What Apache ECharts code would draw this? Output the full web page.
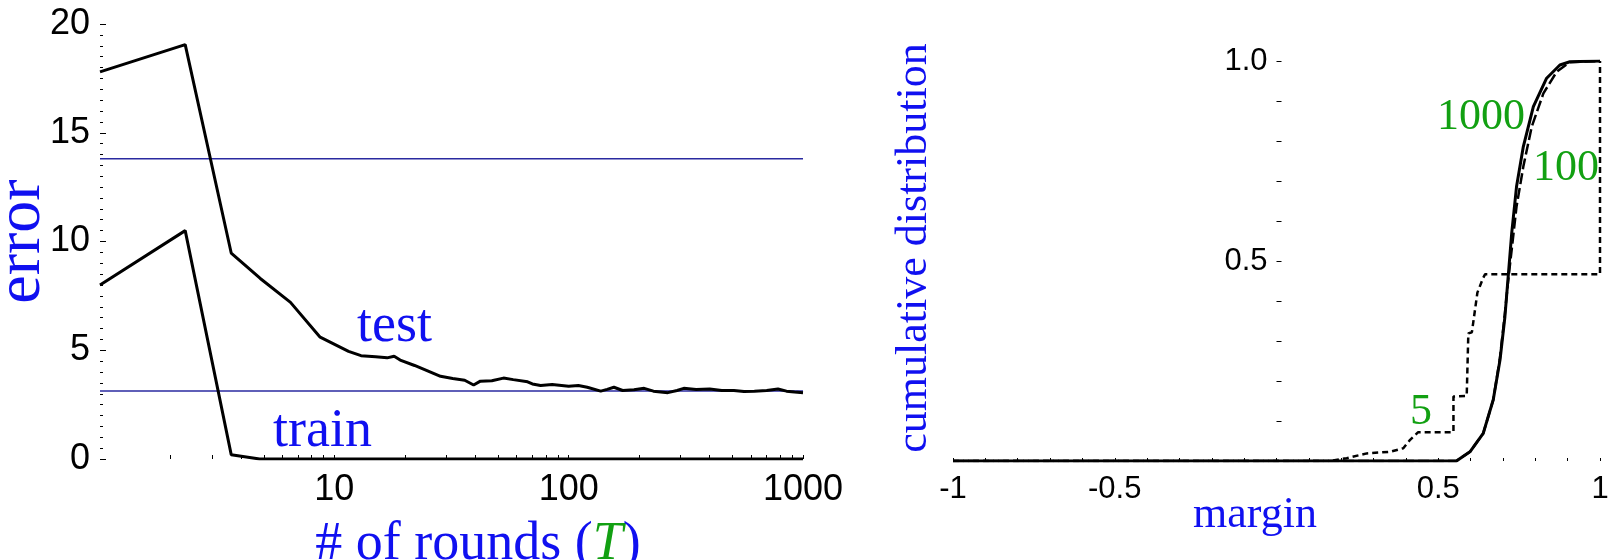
<!DOCTYPE html>
<html>
<head>
<meta charset="utf-8">
<script src="https://cdn.jsdelivr.net/npm/echarts@6/dist/echarts.min.js"></script>
<style>
  html, body { margin: 0; padding: 0; background: #fff; }
  #main { width: 1608px; height: 560px; }
</style>
</head>
<body>
<div id="main"></div>
<script>
// left panel: error vs. number of rounds (log x)
var testErr = [
  [1, 17.8], [2.31, 19.05], [3.63, 9.47], [4.83, 8.3], [6.5, 7.2], [8.7, 5.6],
  [11.5, 4.95], [13, 4.75], [15, 4.7], [16.8, 4.65], [18, 4.72], [19.1, 4.55],
  [22, 4.3], [25, 4.05], [28.4, 3.8], [32, 3.7], [36, 3.62], [39.3, 3.4],
  [42, 3.58], [47, 3.6], [52.7, 3.72], [58, 3.65], [66.8, 3.55], [70, 3.45],
  [75.9, 3.38], [85, 3.42], [100, 3.35], [110, 3.38], [120, 3.3], [137, 3.12],
  [146, 3.2], [156, 3.3], [170, 3.15], [190, 3.18], [210, 3.25], [230, 3.12],
  [265, 3.05], [290, 3.15], [310, 3.25], [350, 3.2], [400, 3.22], [450, 3.15],
  [507, 3.15], [560, 3.1], [620, 3.12], [700, 3.15], [782, 3.22], [850, 3.12],
  [920, 3.08], [1000, 3.05]
];
var trainErr = [[1, 8.0], [2.31, 10.5], [3.63, 0.2], [4.8, 0], [1000, 0]];
var refHigh = [[1, 13.8], [1000, 13.8]];
var refLow = [[1, 3.13], [1000, 3.13]];
var roundTicks = [2, 3, 4, 5, 6, 7, 8, 9, 10, 20, 30, 40, 50, 60, 70, 80, 90, 100,
  200, 300, 400, 500, 600, 700, 800, 900, 1000];

// right panel: cumulative margin distributions
var cdf1000 = [
  [-1, 0], [0.556, 0], [0.598, 0.023], [0.639, 0.069], [0.67, 0.153], [0.691, 0.253],
  [0.706, 0.36], [0.717, 0.469], [0.727, 0.569], [0.742, 0.686], [0.763, 0.786],
  [0.794, 0.886], [0.835, 0.957], [0.876, 0.99], [0.907, 0.998], [1, 1]
];
var cdf100 = [
  [-1, 0], [0.556, 0], [0.598, 0.023], [0.639, 0.069], [0.67, 0.153], [0.69, 0.253],
  [0.705, 0.36], [0.716, 0.45], [0.727, 0.528], [0.742, 0.636], [0.763, 0.736],
  [0.789, 0.836], [0.825, 0.919], [0.866, 0.973], [0.907, 0.997], [1, 1]
];
var cdf5 = [
  [-1, 0], [0.165, 0], [0.217, 0.007], [0.279, 0.019], [0.351, 0.023], [0.392, 0.032],
  [0.413, 0.053], [0.438, 0.072], [0.547, 0.072], [0.547, 0.161], [0.588, 0.163],
  [0.593, 0.319], [0.604, 0.322], [0.621, 0.421], [0.639, 0.458], [0.645, 0.467],
  [1, 0.467], [1, 1]
];

var BLUE = '#1010f0';
var GREEN = '#12a012';
var SERIF = '"Liberation Serif", "DejaVu Serif", serif';
var SANS = '"Liberation Sans", Arial, sans-serif';

var chart = echarts.init(document.getElementById('main'));
var option = {
  animation: false,
  backgroundColor: '#fff',
  grid: [
    { left: 100, right: 805, top: 24, bottom: 101, outerBoundsMode: 'none', containLabel: false },
    { left: 953, right: 8, top: 61, bottom: 99, outerBoundsMode: 'none', containLabel: false }
  ],
  xAxis: [
    {
      gridIndex: 0, type: 'log', min: 1, max: 1000, logBase: 10,
      name: '# of rounds ({g|T})', nameLocation: 'middle', nameGap: 59, nameMoveOverlap: false,
      nameTextStyle: {
        color: BLUE, fontFamily: SERIF, fontSize: 54, padding: [0, 0, 0, 53],
        rich: { g: { color: GREEN, fontStyle: 'italic', fontFamily: SERIF, fontSize: 54 } }
      },
      axisLine: { show: false, onZero: false },
      splitLine: { show: false },
      axisTick: { show: true, inside: true, length: 4, customValues: roundTicks, lineStyle: { color: '#000', width: 1 } },
      axisLabel: {
        margin: 13, color: '#000', fontFamily: SANS, fontSize: 36,
        formatter: function (v) { return v === 1 ? '' : String(v); }
      }
    },
    {
      gridIndex: 1, type: 'value', min: -1, max: 1, interval: 0.5,
      name: 'margin', nameLocation: 'middle', nameGap: 32, nameMoveOverlap: false,
      nameTextStyle: { color: BLUE, fontFamily: SERIF, fontSize: 44, padding: [0, 43, 0, 0] },
      axisLine: { show: false, onZero: false },
      splitLine: { show: false },
      axisTick: { show: true, inside: true, length: 3, lineStyle: { color: '#000', width: 1 } },
      minorTick: { show: true, splitNumber: 5, length: 3, lineStyle: { color: '#000', width: 1 } },
      axisLabel: {
        margin: 13, color: '#000', fontFamily: SANS, fontSize: 31,
        formatter: function (v) { return v === 0 ? '' : String(v); }
      }
    }
  ],
  yAxis: [
    {
      gridIndex: 0, type: 'value', min: 0, max: 20, interval: 5,
      name: 'error', nameLocation: 'middle', nameGap: 46, nameMoveOverlap: false,
      nameTextStyle: { color: BLUE, fontFamily: SERIF, fontSize: 64 },
      axisLine: { show: false, onZero: false },
      splitLine: { show: false },
      axisTick: { show: true, inside: true, length: 6, lineStyle: { color: '#000', width: 1 } },
      minorTick: { show: true, splitNumber: 10, length: 3, lineStyle: { color: '#000', width: 1 } },
      axisLabel: { margin: 10, color: '#000', fontFamily: SANS, fontSize: 36 }
    },
    {
      // the axis stands at margin 0, in the middle of the grid
      gridIndex: 1, type: 'value', min: 0, max: 1, interval: 0.5, offset: -323.5,
      name: 'cumulative distribution', nameLocation: 'middle', nameGap: 340, nameMoveOverlap: false,
      nameTextStyle: { color: BLUE, fontFamily: SERIF, fontSize: 44, padding: [0, 0, 0, 26] },
      axisLine: { show: false, onZero: false },
      splitLine: { show: false },
      axisTick: { show: true, inside: true, length: 5, lineStyle: { color: '#000', width: 1 } },
      minorTick: { show: true, splitNumber: 5, length: 5, lineStyle: { color: '#000', width: 1 } },
      axisLabel: {
        margin: 9, color: '#000', fontFamily: SANS, fontSize: 31,
        formatter: function (v) { return v === 0 ? '' : v.toFixed(1); }
      }
    }
  ],
  series: [
    { name: 'high', type: 'line', xAxisIndex: 0, yAxisIndex: 0, data: refHigh, symbol: 'none',
      lineStyle: { color: '#2a2aa0', width: 1.5 } },
    { name: 'low', type: 'line', xAxisIndex: 0, yAxisIndex: 0, data: refLow, symbol: 'none',
      lineStyle: { color: '#2a2aa0', width: 1.5 } },
    { name: 'test', type: 'line', xAxisIndex: 0, yAxisIndex: 0, data: testErr, symbol: 'none',
      lineStyle: { color: '#000', width: 3 } },
    { name: 'train', type: 'line', xAxisIndex: 0, yAxisIndex: 0, data: trainErr, symbol: 'none',
      lineStyle: { color: '#000', width: 3 } },
    { name: '5', type: 'line', xAxisIndex: 1, yAxisIndex: 1, data: cdf5, symbol: 'none',
      lineStyle: { color: '#000', width: 2.5, type: [6, 4] } },
    { name: '100', type: 'line', xAxisIndex: 1, yAxisIndex: 1, data: cdf100, symbol: 'none',
      lineStyle: { color: '#000', width: 2.5, type: [11, 4] } },
    { name: '1000', type: 'line', xAxisIndex: 1, yAxisIndex: 1, data: cdf1000, symbol: 'none',
      lineStyle: { color: '#000', width: 3 } }
  ],
  graphic: [
    { type: 'text', left: 357, top: 300, style: { text: 'test', fill: BLUE, font: '54px ' + SERIF } },
    { type: 'text', left: 273, top: 405, style: { text: 'train', fill: BLUE, font: '54px ' + SERIF } },
    { type: 'text', left: 1437, top: 95, style: { text: '1000', fill: GREEN, font: '44px ' + SERIF } },
    { type: 'text', left: 1533, top: 146, style: { text: '100', fill: GREEN, font: '44px ' + SERIF } },
    { type: 'text', left: 1410, top: 390, style: { text: '5', fill: GREEN, font: '44px ' + SERIF } }
  ]
};
chart.setOption(option);
</script>
</body>
</html>
